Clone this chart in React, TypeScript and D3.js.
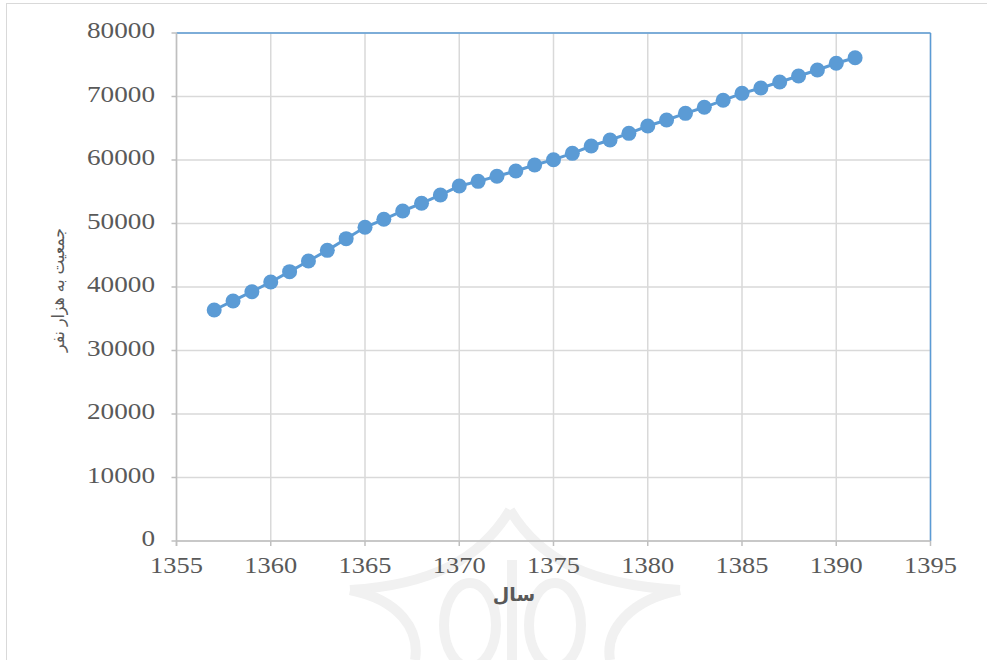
import React from "react";
import * as d3 from "d3";

const years: number[] = [
  1357, 1358, 1359, 1360, 1361, 1362, 1363, 1364, 1365, 1366, 1367, 1368,
  1369, 1370, 1371, 1372, 1373, 1374, 1375, 1376, 1377, 1378, 1379, 1380,
  1381, 1382, 1383, 1384, 1385, 1386, 1387, 1388, 1389, 1390, 1391,
];
const population: number[] = [
  36380, 37800, 39260, 40790, 42420, 44090, 45770, 47610, 49400, 50660, 51970,
  53180, 54490, 55900, 56640, 57430, 58270, 59210, 60050, 61050, 62200, 63150,
  64200, 65350, 66300, 67350, 68300, 69400, 70500, 71340, 72280, 73230, 74170,
  75230, 76110,
];
const xTicks: number[] = [1355, 1360, 1365, 1370, 1375, 1380, 1385, 1390, 1395];
const yTicks: number[] = [0, 10000, 20000, 30000, 40000, 50000, 60000, 70000, 80000];
const xTitle = "سال";
const yTitle = "جمعیت به هزار نفر";

const W = 987;
const H = 660;
const plot = { left: 176.5, right: 930.5, top: 33, bottom: 541 };

export default function App() {
  const x = d3.scaleLinear().domain([1355, 1395]).range([plot.left, plot.right]);
  const y = d3.scaleLinear().domain([0, 80000]).range([plot.bottom, plot.top]);
  const line = d3
    .line<number>()
    .x((_, i) => x(years[i]))
    .y((d) => y(d));
  const textColor = "#595959";
  const grid = "#d9d9d9";
  const blue = "#5b9bd5";
  const charW = 13.6;
  const serif = "'Liberation Serif', 'Times New Roman', serif";

  return (
    <svg
      width={W}
      height={H}
      style={{ position: "absolute", left: 0, top: 0, background: "#fff" }}
    >
      <rect x={6.5} y={3.5} width={W + 10} height={H + 10} fill="#fff" stroke="#d9d9d9" strokeWidth={1} />
      {/* faint watermark */}
      <g fill="none" stroke="#f1f1f1" strokeWidth={10}>
        <path d="M510,510 C480,560 430,585 350,590" />
        <path d="M510,510 C540,560 590,585 680,590" />
        <path d="M350,590 C400,600 420,630 415,660" />
        <path d="M680,590 C630,600 605,630 610,660" />
        <ellipse cx={470} cy={625} rx={26} ry={42} />
        <ellipse cx={555} cy={625} rx={26} ry={42} />
        <path d="M512,560 L512,660" />
      </g>
      {/* gridlines */}
      {yTicks.map((t) => (
        <line key={"gy" + t} x1={plot.left} x2={plot.right} y1={y(t)} y2={y(t)} stroke={grid} strokeWidth={1.5} />
      ))}
      {xTicks.map((t) => (
        <line key={"gx" + t} x1={x(t)} x2={x(t)} y1={plot.top} y2={plot.bottom} stroke={grid} strokeWidth={1.5} />
      ))}
      {/* plot frame */}
      <line x1={plot.left} x2={plot.right} y1={plot.top} y2={plot.top} stroke={blue} strokeWidth={1.5} />
      <line x1={plot.right} x2={plot.right} y1={plot.top} y2={plot.bottom} stroke={blue} strokeWidth={1.5} />
      {/* axes */}
      <line x1={plot.left} x2={plot.left} y1={plot.top} y2={plot.bottom + 5} stroke="#bfbfbf" strokeWidth={1.5} />
      <line x1={plot.left} x2={plot.right} y1={plot.bottom} y2={plot.bottom} stroke="#bfbfbf" strokeWidth={1.5} />
      {xTicks.map((t) => (
        <line key={"tx" + t} x1={x(t)} x2={x(t)} y1={plot.bottom} y2={plot.bottom + 5} stroke="#bfbfbf" strokeWidth={1.5} />
      ))}
      {yTicks.map((t) => (
        <line key={"ty" + t} x1={plot.left - 5} x2={plot.left} y1={y(t)} y2={y(t)} stroke="#bfbfbf" strokeWidth={1.5} />
      ))}
      {/* series */}
      <path d={line(population) || ""} fill="none" stroke={blue} strokeWidth={3} />
      {population.map((v, i) => (
        <circle key={"p" + i} cx={x(years[i])} cy={y(v)} r={7.5} fill={blue} />
      ))}
      {/* tick labels */}
      {yTicks.map((t) => {
        const s = String(t);
        return (
          <text
            key={"ly" + t}
            x={155}
            y={y(t) + 5}
            textAnchor="end"
            fontFamily={serif}
            fontSize={23}
            fill={textColor}
            textLength={s.length * charW}
            lengthAdjust="spacingAndGlyphs"
          >
            {s}
          </text>
        );
      })}
      {xTicks.map((t) => {
        const s = String(t);
        return (
          <text
            key={"lx" + t}
            x={x(t)}
            y={573}
            textAnchor="middle"
            fontFamily={serif}
            fontSize={23}
            fill={textColor}
            textLength={s.length * 13.2}
            lengthAdjust="spacingAndGlyphs"
          >
            {s}
          </text>
        );
      })}
      {/* axis titles */}
      <text
        x={514}
        y={601}
        textAnchor="middle"
        fontFamily="DejaVu Sans"
        fontWeight="bold"
        fontSize={19}
        fill={textColor}
        direction="rtl"
      >
        {xTitle}
      </text>
      <text
        transform="translate(64,290) rotate(-90)"
        textAnchor="middle"
        fontFamily="DejaVu Sans"
        fontSize={17}
        fill={textColor}
        direction="rtl"
        textLength={124}
        lengthAdjust="spacingAndGlyphs"
      >
        {yTitle}
      </text>
    </svg>
  );
}
